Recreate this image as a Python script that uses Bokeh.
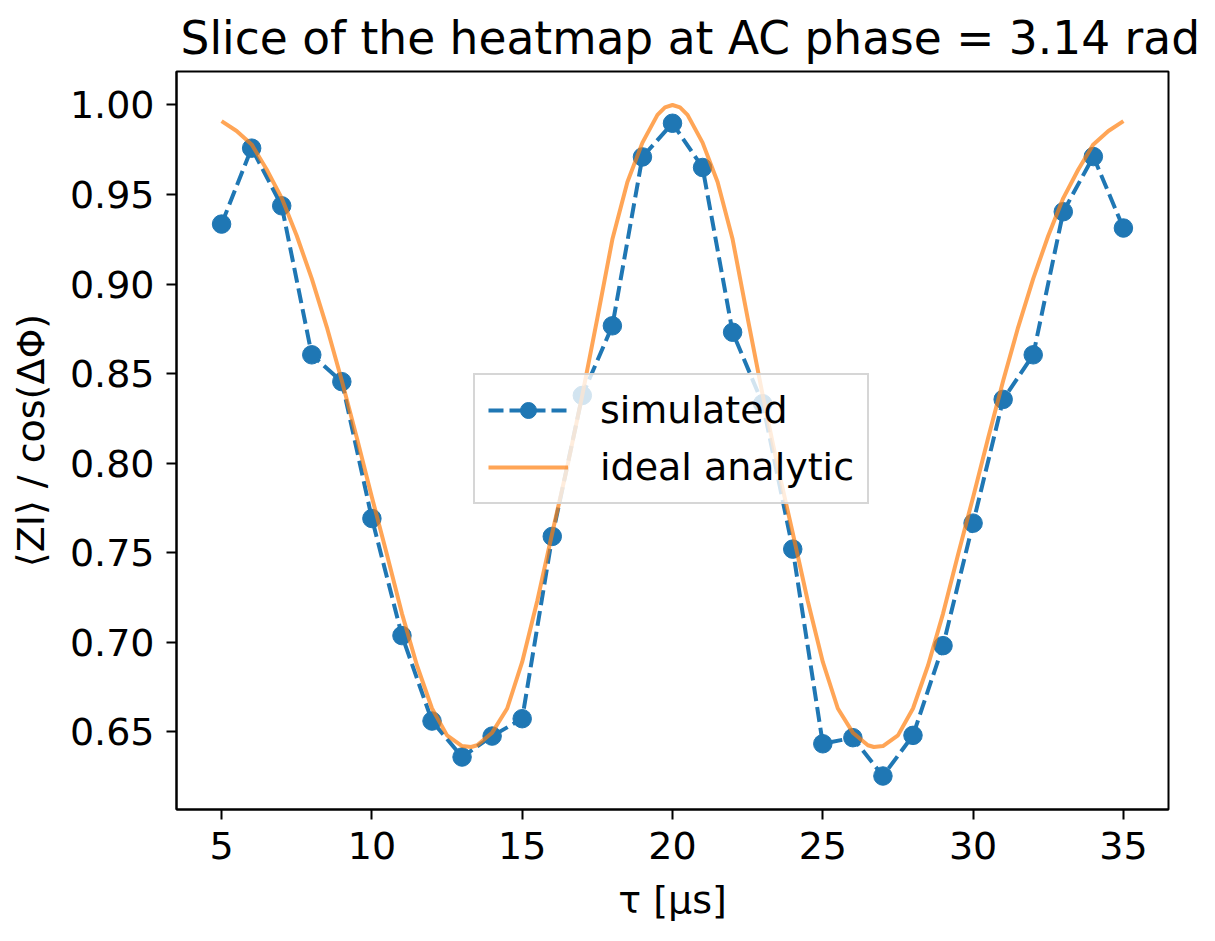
from bokeh.plotting import figure
from bokeh.models import Range1d, FixedTicker, Legend, LegendItem, NumeralTickFormatter
from bokeh.embed import file_html
from bokeh.resources import INLINE

title_text = "Slice of the heatmap at AC phase = 3.14 rad"
x_label = "τ [μs]"
y_label = "⟨ZI⟩ / cos(ΔΦ)"

tau_sim = [5, 6, 7, 8, 9, 10, 11, 12, 13, 14, 15, 16, 17, 18, 19, 20,
           21, 22, 23, 24, 25, 26, 27, 28, 29, 30, 31, 32, 33, 34, 35]
zi_sim = [0.9335, 0.9759, 0.9437, 0.8605, 0.8455, 0.7691, 0.7037, 0.6560,
          0.6359, 0.6476, 0.6573, 0.7591, 0.8378, 0.8767, 0.9710, 0.9898,
          0.9651, 0.8731, 0.8332, 0.7520, 0.6433, 0.6467, 0.6253, 0.6480,
          0.6981, 0.7665, 0.8356, 0.8605, 0.9404, 0.9712, 0.9313]

tau_ideal = [5.0, 5.5, 6.0, 6.5, 7.0, 7.5, 8.0, 8.5, 9.0, 9.5, 10.0, 10.5,
             11.0, 11.5, 12.0, 12.5, 13.0, 13.3, 13.5, 14.0, 14.5, 15.0, 15.5,
             16.0, 16.5, 17.0, 17.5, 18.0, 18.5, 19.0, 19.5, 19.75, 20.0,
             20.25, 20.5, 21.0, 21.5, 22.0, 22.5, 23.0, 23.5, 24.0, 24.5, 25.0,
             25.5, 26.0, 26.5, 26.7, 27.0, 27.5, 28.0, 28.5, 29.0, 29.5,
             30.0, 30.5, 31.0, 31.5, 32.0, 32.5, 33.0, 33.5, 34.0, 34.5, 35.0]
zi_ideal = [0.991, 0.9855, 0.978, 0.964, 0.948, 0.927, 0.903, 0.876, 0.846,
            0.814, 0.781, 0.749, 0.716, 0.687, 0.663, 0.648, 0.642, 0.6415,
            0.6425, 0.6495, 0.663, 0.689, 0.723, 0.761, 0.798, 0.838, 0.881,
            0.925, 0.957, 0.979, 0.9945, 0.9987, 1.0,
            0.9987, 0.9945, 0.979, 0.957, 0.925, 0.881, 0.838, 0.798, 0.761,
            0.723, 0.689, 0.663, 0.6495, 0.6425, 0.6415, 0.642, 0.648, 0.663,
            0.687, 0.716, 0.749, 0.781, 0.814, 0.846, 0.876, 0.903, 0.927,
            0.948, 0.964, 0.978, 0.9855, 0.991]

x_ticks = [5, 10, 15, 20, 25, 30, 35]
y_ticks = [0.65, 0.70, 0.75, 0.80, 0.85, 0.90, 0.95, 1.00]

FONT = "DejaVu Sans"
BLUE = "#1f77b4"
ORANGE = "#ff7f0e"

p = figure(width=1199, height=925, output_backend="svg", toolbar_location=None,
           x_range=Range1d(3.5, 36.5), y_range=Range1d(0.6066, 1.0187),
           min_border_left=176, min_border_right=31, min_border_top=71,
           min_border_bottom=116)

p.title.text = title_text
p.title.align = "left"
p.title.offset = 4
p.title.text_font = FONT
p.title.text_font_size = "45.5px"
p.title.text_font_style = "normal"
p.title.text_color = "black"
p.title.standoff = 14

p.background_fill_color = "white"
p.border_fill_color = "white"
p.outline_line_color = "black"
p.outline_line_width = 2
p.xgrid.visible = False
p.ygrid.visible = False

for ax in (p.xaxis[0], p.yaxis[0]):
    ax.axis_line_color = "black"
    ax.axis_line_width = 2
    ax.major_tick_line_color = "black"
    ax.major_tick_line_width = 2
    ax.major_tick_out = 10
    ax.major_tick_in = 0
    ax.minor_tick_line_color = None
    ax.major_label_text_font = FONT
    ax.major_label_text_font_size = "38px"
    ax.major_label_text_color = "black"
    ax.major_label_standoff = 12
    ax.axis_label_text_font = FONT
    ax.axis_label_text_font_size = "38px"
    ax.axis_label_text_font_style = "normal"
    ax.axis_label_text_color = "black"

p.xaxis[0].ticker = FixedTicker(ticks=x_ticks)
p.yaxis[0].ticker = FixedTicker(ticks=y_ticks)
p.yaxis[0].formatter = NumeralTickFormatter(format="0.00")
p.xaxis[0].axis_label = x_label
p.yaxis[0].axis_label = y_label
p.xaxis[0].axis_label_standoff = 16
p.yaxis[0].axis_label_standoff = 14

sim_line = p.line(tau_sim, zi_sim, line_color=BLUE, line_width=4,
                  line_dash="15 6", line_join="round")
sim_pts = p.scatter(tau_sim, zi_sim, size=18.5, fill_color=BLUE,
                    line_color=BLUE, line_width=1)
ideal_line = p.line(tau_ideal, zi_ideal, line_color=ORANGE, line_alpha=0.7,
                    line_width=4, line_join="round")

legend = Legend(items=[LegendItem(label="simulated", renderers=[sim_line, sim_pts]),
                       LegendItem(label="ideal analytic", renderers=[ideal_line])],
                location=(297, 305))
legend.label_text_font = FONT
legend.label_text_font_size = "38px"
legend.label_text_color = "black"
legend.glyph_width = 80
legend.glyph_height = 40
legend.label_height = 40
legend.label_standoff = 32
legend.spacing = 13
legend.padding = 13
legend.margin = 0
legend.border_line_color = "#cccccc"
legend.border_line_width = 2
legend.border_line_alpha = 0.8
legend.background_fill_color = "white"
legend.background_fill_alpha = 0.8
p.add_layout(legend, "center")

open("out.html", "w").write(file_html(p, INLINE))
